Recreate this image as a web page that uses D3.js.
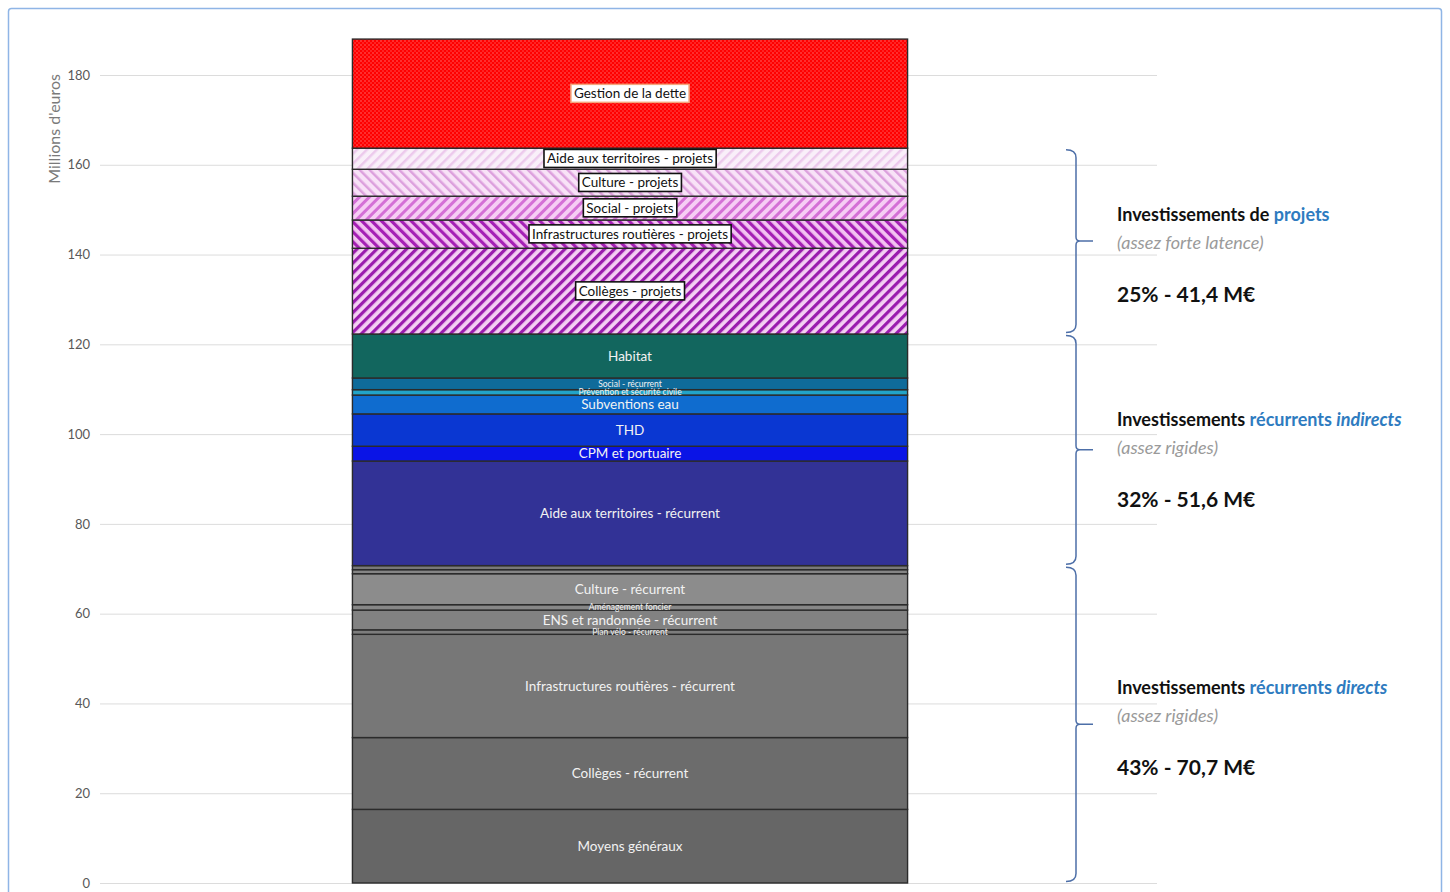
<!DOCTYPE html>
<html lang="fr">
<head>
<meta charset="utf-8">
<script src="https://cdn.jsdelivr.net/npm/d3@7/dist/d3.min.js"></script>
<style>
  html, body { margin: 0; padding: 0; background: #ffffff; }
  svg { display: block; }
  text { font-family: Lato, "Open Sans", sans-serif; }
</style>
</head>
<body>
<svg id="chart" width="1450" height="892"></svg>
<script>
// Budget d'investissement empilé, du bas vers le haut (millions d'euros)
const categories = [
  "Moyens généraux",
  "Collèges - récurrent",
  "Infrastructures routières - récurrent",
  "Plan vélo - récurrent",
  "ENS et randonnée - récurrent",
  "Aménagement foncier",
  "Culture - récurrent",
  "",
  "",
  "Aide aux territoires - récurrent",
  "CPM et portuaire",
  "THD",
  "Subventions eau",
  "Prévention et sécurité civile",
  "Social - récurrent",
  "Habitat",
  "Collèges - projets",
  "Infrastructures routières - projets",
  "Social - projets",
  "Culture - projets",
  "Aide aux territoires - projets",
  "Gestion de la dette"
];
const values = [16.4, 16.0, 23.0, 1.0, 4.4, 1.2, 6.9, 0.9, 0.9,
                23.3, 3.3, 7.2, 4.2, 1.2, 2.6, 9.8,
                19.1, 6.3, 5.3, 6.0, 4.7,
                24.3];
const groups = ["directs", "directs", "directs", "directs", "directs", "directs", "directs", "directs", "directs",
                "indirects", "indirects", "indirects", "indirects", "indirects", "indirects", "indirects",
                "projets", "projets", "projets", "projets", "projets",
                "dette"];
// Remplissages : couleur pleine ou motif
const fills = ["#666666", "#6c6c6c", "#777777", "#7d7d7d", "#828282", "#878787", "#8c8c8c", "#858585", "#7a7a7a",
               "#323296", "#0a14e6", "#0a37d2", "#0f6ccf", "#22a4c8", "#0f6b9a", "#12665e",
               "url(#pCol)", "url(#pInfra)", "url(#pSoc)", "url(#pCult)", "url(#pAide)",
               "url(#pDette)"];
const labelKinds = ["std", "std", "std", "small", "std", "small", "std", "none", "none",
                    "std", "std", "std", "std", "small", "small", "std",
                    "box", "box", "box", "box", "box",
                    "boxDette"];

const yTicks = [0, 20, 40, 60, 80, 100, 120, 140, 160, 180];
const yTitle = "Millions d'euros";

// Annotations des trois familles d'investissement
const groupKeys = ["projets", "indirects", "directs"];
const groupHeads = [
  [{t: "Investissements de ", c: "#111"}, {t: "projets", c: "#2e7bbf"}],
  [{t: "Investissements ", c: "#111"}, {t: "récurrents ", c: "#2e7bbf"}, {t: "indirects", c: "#2e7bbf", i: true}],
  [{t: "Investissements ", c: "#111"}, {t: "récurrents ", c: "#2e7bbf"}, {t: "directs", c: "#2e7bbf", i: true}]
];
const groupNotes = ["(assez forte latence)", "(assez rigides)", "(assez rigides)"];
const groupTotals = ["25% - 41,4 M€", "32% - 51,6 M€", "43% - 70,7 M€"];

const svg = d3.select("#chart");
const W = 1450, H = 892;

// cadre
svg.append("rect").attr("x", 8.5).attr("y", 8.5).attr("width", W - 17).attr("height", H + 10)
  .attr("rx", 3).attr("fill", "#fff").attr("stroke", "#8fb5e6").attr("stroke-width", 1.5);

// motifs
const defs = svg.append("defs");
function stripes(id, bg, fg, angle, sw, pitch) {
  const p = defs.append("pattern").attr("id", id).attr("patternUnits", "userSpaceOnUse")
    .attr("width", pitch).attr("height", pitch).attr("patternTransform", `rotate(${angle})`);
  p.append("rect").attr("width", pitch).attr("height", pitch).attr("fill", bg);
  p.append("rect").attr("width", sw).attr("height", pitch).attr("fill", fg);
}
stripes("pAide", "#f9eff9", "#ecc9ec", 45, 2.5, 7);
stripes("pCult", "#f8e2f7", "#dca0dd", -45, 2.5, 7);
stripes("pSoc", "#f6cdf4", "#d470d6", 45, 3, 7);
stripes("pInfra", "#f3c3f1", "#a520b5", -45, 3.2, 7);
stripes("pCol", "#f4d0f3", "#9a1cae", 45, 3.2, 7);
const pd = defs.append("pattern").attr("id", "pDette").attr("patternUnits", "userSpaceOnUse")
  .attr("width", 4).attr("height", 4);
pd.append("rect").attr("width", 4).attr("height", 4).attr("fill", "#ff0000");
pd.append("circle").attr("cx", 1).attr("cy", 1).attr("r", 0.8).attr("fill", "#ff6a6a");
pd.append("circle").attr("cx", 3).attr("cy", 3).attr("r", 0.8).attr("fill", "#ff5050");

// échelles
const y = d3.scaleLinear().domain([0, 180]).range([883, 75]);
const x = d3.scaleBand().domain(["budget"]).range([100, 1157])
  .paddingInner(0).paddingOuter(0.452).align(0.503);

// axe et quadrillage
const axis = d3.axisLeft(y).tickValues(yTicks).tickSize(-1057).tickPadding(10).tickFormat(d3.format("d"));
const gA = svg.append("g").attr("transform", "translate(100,0)").call(axis);
gA.select(".domain").remove();
gA.selectAll(".tick line").attr("stroke", "#dcdcdc").attr("stroke-width", 1);
gA.selectAll(".tick text").attr("fill", "#595959").style("font-size", "13px")
  .style("font-family", "Lato, sans-serif");

svg.append("text").attr("transform", `translate(60,${y(168)}) rotate(-90)`)
  .attr("text-anchor", "middle").attr("fill", "#7a7a7a").style("font-size", "16px").text(yTitle);

// segments empilés
const data = categories.map((c, i) => ({name: c, v: values[i], g: groups[i], fill: fills[i], k: labelKinds[i]}));
let acc = 0;
data.forEach(d => { d.y0 = acc; acc += d.v; d.y1 = acc; });

const bx = x("budget"), bw = x.bandwidth();
svg.append("g").selectAll("rect").data(data).join("rect")
  .attr("x", bx).attr("width", bw)
  .attr("y", d => y(d.y1)).attr("height", d => y(d.y0) - y(d.y1))
  .attr("fill", d => d.fill)
  .attr("stroke", "#2b2b2b").attr("stroke-width", 1.4);

// libellés
const cx = bx + bw / 2;
const lab = svg.append("g");
data.forEach(d => {
  if (d.k === "none") return;
  const cy = (y(d.y0) + y(d.y1)) / 2;
  if (d.k === "std" || d.k === "small") {
    lab.append("text").attr("x", cx).attr("y", cy).attr("dy", "0.35em")
      .attr("text-anchor", "middle").attr("fill", "#f2f2f2")
      .style("font-size", d.k === "small" ? "8.5px" : "13.5px")
      .text(d.name);
  } else {
    const t = lab.append("text").attr("x", cx).attr("y", cy).attr("dy", "0.35em")
      .attr("text-anchor", "middle").attr("fill", "#111")
      .style("font-size", "13.5px").text(d.name);
    const bb = t.node().getBBox();
    lab.insert("rect", () => t.node())
      .attr("x", bb.x - 3).attr("y", bb.y - 1).attr("width", bb.width + 6).attr("height", bb.height + 2)
      .attr("fill", "#fff")
      .attr("stroke", d.k === "boxDette" ? "#f4a57c" : "#111")
      .attr("stroke-width", d.k === "boxDette" ? 1.5 : 1.6);
  }
});

// accolades et annotations
const textShift = [0, -4, -10];
const ann = svg.append("g");
groupKeys.forEach((g, gi) => {
  const seg = data.filter(d => d.g === g);
  const lo = d3.min(seg, d => d.y0), hi = d3.max(seg, d => d.y1);
  const top = y(hi) + 1.5, bot = y(lo) - 1.5, mid = (top + bot) / 2;
  const xv = 1076;
  ann.append("path")
    .attr("d", `M${xv - 10},${top} Q${xv},${top} ${xv},${top + 8} L${xv},${mid - 4} Q${xv},${mid} ${xv + 4},${mid} L${xv + 17},${mid}
                M${xv + 4},${mid} Q${xv},${mid} ${xv},${mid + 4} L${xv},${bot - 8} Q${xv},${bot} ${xv - 10},${bot}`)
    .attr("fill", "none").attr("stroke", "#4d6fa8").attr("stroke-width", 1.5);

  const tx = 1117, ty = mid + textShift[gi];
  const head = ann.append("text").attr("x", tx).attr("y", ty - 20)
    .style("font-size", "18px").style("font-weight", "bold");
  groupHeads[gi].forEach(s => {
    head.append("tspan").attr("fill", s.c).style("font-style", s.i ? "italic" : "normal").text(s.t);
  });
  ann.append("text").attr("x", tx).attr("y", ty + 8).attr("fill", "#9a9a9a")
    .style("font-size", "18px").style("font-style", "italic").text(groupNotes[gi]);
  ann.append("text").attr("x", tx).attr("y", ty + 61).attr("fill", "#111")
    .style("font-size", "21px").style("font-weight", "bold").text(groupTotals[gi]);
});
</script>
</body>
</html>
